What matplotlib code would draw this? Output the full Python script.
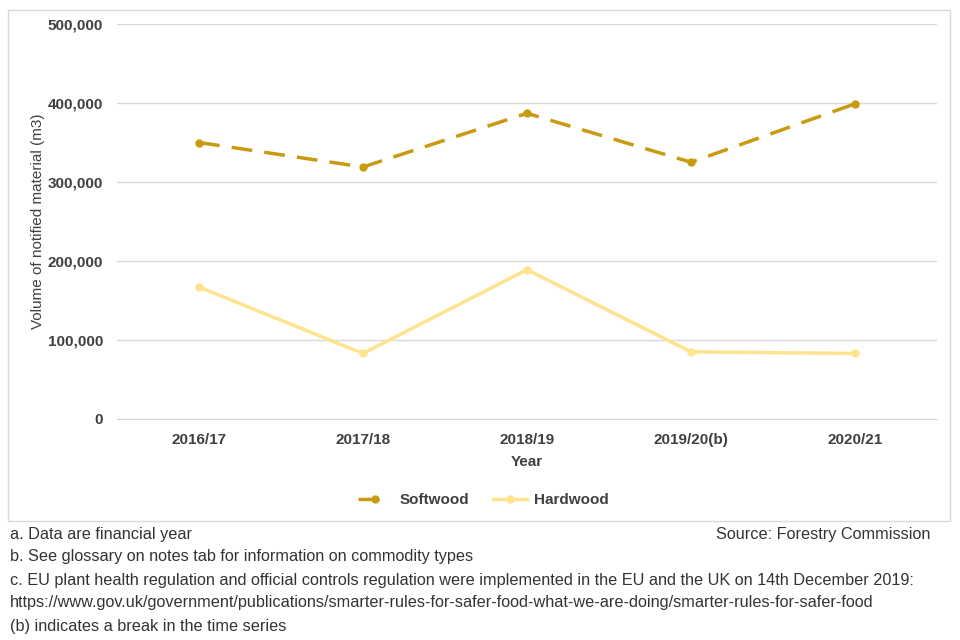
import matplotlib
matplotlib.use('Agg')
import matplotlib.pyplot as plt
from matplotlib.patches import Rectangle
from matplotlib.ticker import FuncFormatter

years = ['2016/17', '2017/18', '2018/19', '2019/20(b)', '2020/21']
softwood = [350000, 319000, 387000, 325000, 399000]
hardwood = [167000, 83000, 189000, 85000, 83000]

plt.rcParams['font.family'] = ['Liberation Sans', 'DejaVu Sans']

fig = plt.figure(figsize=(9.6, 6.4), dpi=100)
ax = fig.add_axes([117 / 960, 1 - 419 / 640, 820 / 960, 395 / 640])

x = list(range(len(years)))
ax.plot(x, softwood, color='#C99A10', lw=2.5, ls=(0, (6, 3.5)), marker='o', ms=5,
        label='Softwood')
ax.plot(x, hardwood, color='#FFE38F', lw=2.5, marker='o', ms=5, label='Hardwood')

ax.set_xlim(-0.5, len(years) - 0.5)
ax.set_ylim(0, 500000)
ax.set_yticks(range(0, 500001, 100000))
ax.yaxis.set_major_formatter(FuncFormatter(lambda v, p: f'{int(v):,}'))
ax.set_xticks(x)
ax.set_xticklabels(years)
ax.grid(axis='y', color='#D9D9D9', lw=1)
ax.set_axisbelow(True)
for s in ['top', 'right', 'left']:
    ax.spines[s].set_visible(False)
ax.spines['bottom'].set_color('#D9D9D9')
ax.tick_params(length=0, colors='#404040', labelsize=11, pad=10)
for lab in ax.get_xticklabels() + ax.get_yticklabels():
    lab.set_fontweight('bold')
ax.tick_params(axis='y', pad=10)

ax.set_xlabel('Year', fontsize=11, fontweight='bold', color='#404040', labelpad=6)
ax.set_ylabel('Volume of notified material (m3)', fontsize=11, color='#404040',
              labelpad=2)

leg = ax.legend(loc='center', bbox_to_anchor=(0.447, -0.205), ncol=2, frameon=False,
                fontsize=11, handlelength=2.2, columnspacing=1.6, handletextpad=0.5)
for t in leg.get_texts():
    t.set_fontweight('bold')
    t.set_color('#404040')

# chart border
fig.patches.append(Rectangle((8 / 960, 1 - 521 / 640), 942 / 960, 511 / 640,
                             transform=fig.transFigure, fill=False,
                             edgecolor='#D9D9D9', lw=1))

notes = [
    'a. Data are financial year',
    'b. See glossary on notes tab for information on commodity types',
    'c. EU plant health regulation and official controls regulation were implemented in the EU and the UK on 14th December 2019:',
    'https://www.gov.uk/government/publications/smarter-rules-for-safer-food-what-we-are-doing/smarter-rules-for-safer-food',
    '(b) indicates a break in the time series',
]
for i, n in enumerate(notes):
    fig.text(10 / 960, 1 - (534 + i * 23) / 640, n, fontsize=11.7, color='#333333',
             va='center', ha='left')
fig.text(930 / 960, 1 - 534 / 640, 'Source: Forestry Commission', fontsize=11.7,
         color='#333333', va='center', ha='right')

fig.savefig('out.png', dpi=100)
